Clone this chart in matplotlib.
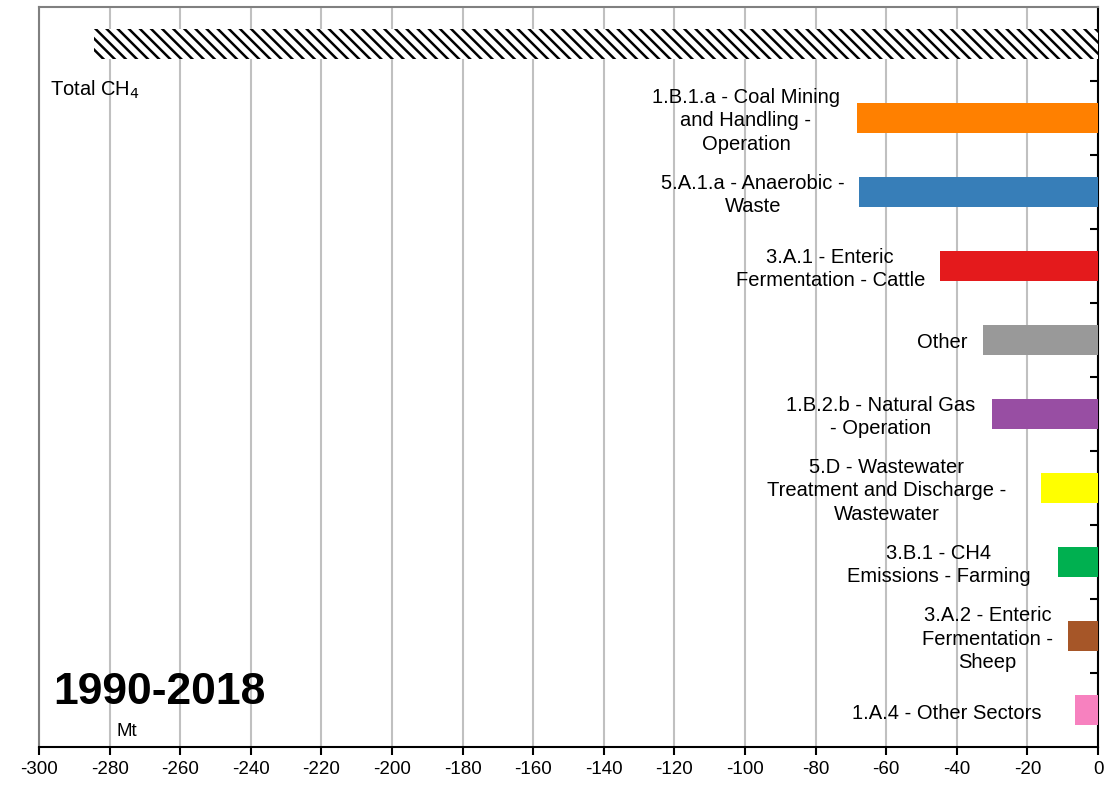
import matplotlib.pyplot as plt
from matplotlib.transforms import offset_copy

plt.rcParams['font.family'] = ['Liberation Sans', 'DejaVu Sans']
plt.rcParams['hatch.linewidth'] = 1.8

# Change in CH4 emissions 1990-2018 (Mt)
sectors = [
    "Total CH4",
    "1.B.1.a - Coal Mining\nand Handling -\nOperation",
    "5.A.1.a - Anaerobic -\nWaste",
    "3.A.1 - Enteric\nFermentation - Cattle",
    "Other",
    "1.B.2.b - Natural Gas\n- Operation",
    "5.D - Wastewater\nTreatment and Discharge -\nWastewater",
    "3.B.1 - CH4\nEmissions - Farming",
    "3.A.2 - Enteric\nFermentation -\nSheep",
    "1.A.4 - Other Sectors",
]
changes = [-284.4, -68.3, -67.7, -44.8, -32.6, -30.0, -16.1, -11.3, -8.5, -6.5]
colors = ["white", "#FF8000", "#377EB8", "#E41A1C", "#999999", "#984EA3",
          "#FFFF00", "#00B050", "#A65628", "#F781BF"]
xticks = list(range(-300, 1, 20))

# gap between label and bar start, in pixels
label_pad = [0, 17, 14, 15, 15, 17, 35, 28, 15, 34]

fig = plt.figure(figsize=(11.08, 7.85), dpi=100)
ax = fig.add_axes([0.0352, 0.0484, 0.9558, 0.9427])

ypos = list(range(len(sectors)))
for i, (v, c) in enumerate(zip(changes, colors)):
    if i == 0:
        ax.barh(i, v, height=0.41, color="white", edgecolor="black",
                hatch="\\\\\\", linewidth=0, zorder=3)
    else:
        ax.barh(i, v, height=0.41, color=c, linewidth=0, zorder=3)

for i in range(1, len(sectors)):
    tr = offset_copy(ax.transData, fig=fig, x=-label_pad[i] * 0.72, y=-3 * 0.72,
                     units='points')
    ax.text(changes[i], ypos[i], sectors[i], transform=tr, ha='right', va='center',
            multialignment='center', fontsize=14.5, linespacing=1.33)

ax.text(0.0104, 0.888, r"Total CH$_4$", transform=ax.transAxes, ha='left',
        va='center', fontsize=14.5)
ax.text(0.0132, 0.073, "1990-2018", transform=ax.transAxes, ha='left',
        va='center', fontsize=32, fontweight='bold')
ax.text(0.083, 0.021, "Mt", transform=ax.transAxes, ha='center',
        va='center', fontsize=13.5)

ax.set_xlim(-300, 0)
ax.set_ylim(len(sectors) - 0.5, -0.5)
ax.set_xticks(xticks)
ax.set_xticklabels([str(t) for t in xticks])
ax.tick_params(axis='x', direction='out', length=6, width=1.5, labelsize=13.5, pad=4)

ax.yaxis.tick_right()
ax.set_yticks([k + 0.5 for k in range(len(sectors) - 1)])
ax.set_yticklabels([])
ax.tick_params(axis='y', direction='in', length=6, width=1.5)

ax.grid(axis='x', color='#c0c0c0', linewidth=1.5, zorder=0)
ax.set_axisbelow(True)

for s in ['left', 'top']:
    ax.spines[s].set_color('#808080')
    ax.spines[s].set_linewidth(1.5)
for s in ['right', 'bottom']:
    ax.spines[s].set_color('black')
    ax.spines[s].set_linewidth(1.5)

fig.savefig("out.png", dpi=100)
